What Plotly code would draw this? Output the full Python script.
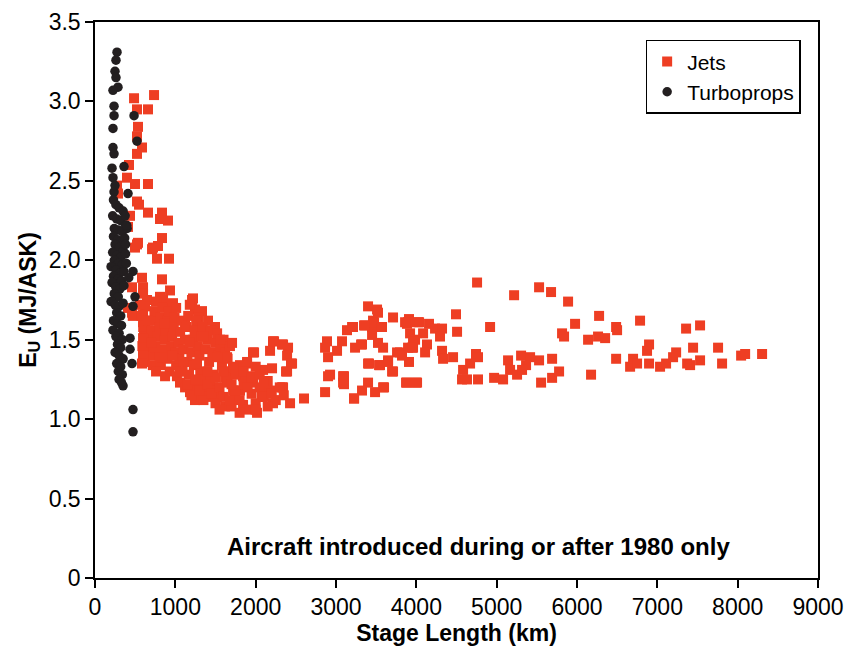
import plotly.graph_objects as go

# ---- data (stage length km, energy intensity MJ/ASK) ----
jets = [
    # sparse upper jets
    (486, 3.02), (735, 3.04), (523, 2.95), (660, 2.95), (535, 2.84), (523, 2.78),
    (585, 2.71), (523, 2.67), (423, 2.60), (398, 2.52), (498, 2.48), (660, 2.48),
    (523, 2.37), (548, 2.35), (660, 2.30), (834, 2.30), (809, 2.26), (909, 2.25),
    (436, 2.28), (411, 2.21), (834, 2.14), (535, 2.11), (498, 2.08), (710, 2.07),
    (784, 2.09), (772, 2.01), (921, 2.01), (585, 1.89), (834, 1.88), (274, 2.47),
    (286, 2.42), (523, 2.10), (722, 2.08), (598, 1.83), (934, 1.81), (461, 1.83),
    (598, 1.79), (1220, 1.76), (809, 1.77), (647, 1.75), (847, 1.75), (1208, 1.75),
    (909, 1.71), (1245, 1.69), (1332, 1.68), (461, 1.67), (598, 1.66), (747, 1.67),
    (959, 1.66), (1283, 1.64), (1407, 1.62), (623, 1.61), (1121, 1.61), (1494, 1.58),
    (623, 1.71), (847, 1.72), (971, 1.73), (1270, 1.59), (598, 1.61), (411, 1.70),
    (470, 1.65),
    # dense cluster, upper-left part
    (560, 1.72), (580, 1.65), (600, 1.58), (610, 1.52), (590, 1.46), (600, 1.40),
    (620, 1.36), (650, 1.44), (680, 1.50), (700, 1.56), (720, 1.62), (740, 1.68),
    (760, 1.74), (700, 1.40), (720, 1.34), (750, 1.46), (780, 1.52), (800, 1.58),
    (820, 1.64), (840, 1.70), (800, 1.40), (820, 1.34), (850, 1.44), (870, 1.50),
    (880, 1.56), (900, 1.62), (920, 1.68), (900, 1.38), (930, 1.30), (950, 1.46),
    (960, 1.52), (980, 1.58), (990, 1.64), (1000, 1.42), (1010, 1.34), (1020, 1.27),
    (1040, 1.48), (1060, 1.55), (1080, 1.62), (1050, 1.38), (1090, 1.30), (1100, 1.44),
    (1120, 1.50), (1140, 1.58), (1160, 1.65), (1180, 1.72), (1150, 1.36), (1170, 1.28),
    (1200, 1.42), (1220, 1.50), (1240, 1.56), (1260, 1.62), (1230, 1.34), (1250, 1.22),
    (1280, 1.46), (1300, 1.40), (1320, 1.52), (1340, 1.58), (1310, 1.30), (1350, 1.20),
    (1380, 1.44), (1400, 1.50), (1420, 1.36), (1440, 1.56), (1460, 1.42), (1480, 1.28),
    (1500, 1.48), (1520, 1.54), (1540, 1.40), (1560, 1.46), (1580, 1.34), (1600, 1.50),
    (1620, 1.42), (1650, 1.38), (1680, 1.46), (1700, 1.30), (598, 1.51), (598, 1.45),
    (598, 1.40), (585, 1.35), (747, 1.45), (834, 1.39), (872, 1.27), (1058, 1.23),
    (1183, 1.17), (1307, 1.13), (1058, 1.30), (1270, 1.35), (1519, 1.39), (1557, 1.50),
    (1706, 1.48), (1644, 1.39), (1719, 1.33), (1345, 1.25), (1470, 1.20), (1644, 1.23),
    (1121, 1.20), (1245, 1.12), (660, 1.62), (870, 1.60), (1010, 1.70), (760, 1.30),
    (1100, 1.36), (960, 1.40), (1180, 1.48), (1350, 1.52), (700, 1.48),
    # dense cluster, lower-right part
    (1843, 1.33), (1967, 1.42), (1893, 1.35), (2092, 1.31), (2204, 1.32), (1967, 1.23),
    (1805, 1.18), (1619, 1.08), (1843, 1.09), (2017, 1.04), (2216, 1.10), (2428, 1.10),
    (2341, 1.20), (2179, 1.18), (1519, 1.14), (1394, 1.14), (1307, 1.14), (1743, 1.14),
    (2079, 1.14), (1183, 1.18), (2216, 1.49), (2341, 1.47), (2403, 1.45), (2179, 1.43),
    (2391, 1.40), (2453, 1.35), (2391, 1.30), (2602, 1.13), (2229, 1.49), (2328, 1.47),
    (2440, 1.35), (2378, 1.30), (1980, 1.42), (1893, 1.36), (1805, 1.34), (1719, 1.32),
    (1967, 1.27), (1843, 1.27), (1619, 1.26), (1432, 1.25), (2328, 1.20), (2141, 1.18),
    (1719, 1.18), (1470, 1.18), (1150, 1.22), (1200, 1.15), (1250, 1.25), (1300, 1.18),
    (1350, 1.12), (1400, 1.22), (1450, 1.16), (1500, 1.10), (1550, 1.20), (1600, 1.14),
    (1650, 1.24), (1700, 1.08), (1750, 1.18), (1800, 1.12), (1850, 1.22), (1900, 1.06),
    (1950, 1.16), (2000, 1.10), (2050, 1.20), (2100, 1.14), (2150, 1.24), (2200, 1.16),
    (2250, 1.12), (2300, 1.20), (2350, 1.15), (1750, 1.28), (1850, 1.30), (1950, 1.26),
    (2000, 1.33), (2050, 1.28), (1600, 1.30), (1500, 1.26), (1400, 1.30), (1700, 1.22),
    (1900, 1.20), (2100, 1.24), (1800, 1.04), (2000, 1.06), (2150, 1.08), (1680, 1.12),
    (1550, 1.06),
    # long-haul jets
    (2888, 1.49), (2864, 1.45), (2901, 1.39), (2901, 1.27), (3088, 1.27), (3088, 1.23),
    (2864, 1.17), (3225, 1.13), (3075, 1.49), (3137, 1.56), (3200, 1.58), (3237, 1.45),
    (3324, 1.47), (3362, 1.59), (3399, 1.71), (3511, 1.69), (3523, 1.67), (3461, 1.62),
    (3449, 1.58), (3573, 1.58), (3449, 1.53), (3523, 1.48), (3586, 1.45), (3399, 1.35),
    (3548, 1.34), (3648, 1.37), (3698, 1.30), (3399, 1.23), (3486, 1.17), (3586, 1.20),
    (3710, 1.64), (3760, 1.42), (3897, 1.61), (4021, 1.61), (3922, 1.54), (4084, 1.54),
    (3797, 1.42), (3897, 1.45), (3959, 1.45), (3984, 1.50), (3909, 1.36), (3884, 1.23),
    (4009, 1.23), (3212, 1.58), (3349, 1.59), (3474, 1.61), (3561, 1.58), (3312, 1.47),
    (3013, 1.43), (3884, 1.60), (3959, 1.49), (3411, 1.35), (3536, 1.34), (2926, 1.28),
    (3100, 1.27), (3100, 1.22), (3872, 1.23), (3324, 1.18), (3225, 1.13),
    (4756, 1.86), (5217, 1.78), (5528, 1.83), (5677, 1.80), (5889, 1.74), (6275, 1.65),
    (6785, 1.62), (7358, 1.57), (7532, 1.59), (3909, 1.63), (3860, 1.61), (4034, 1.61),
    (4158, 1.60), (4233, 1.57), (4320, 1.57), (4494, 1.66), (4507, 1.55), (4918, 1.58),
    (4295, 1.52), (4133, 1.47), (3947, 1.45), (3822, 1.40), (4109, 1.42), (4320, 1.43),
    (4333, 1.38), (4457, 1.39), (4743, 1.41), (4768, 1.39), (3648, 1.36), (4582, 1.31),
    (4669, 1.35), (5142, 1.37), (5304, 1.40), (5416, 1.39), (5528, 1.37), (5690, 1.38),
    (5366, 1.34), (5167, 1.31), (5254, 1.28), (5316, 1.31), (3710, 1.30), (3598, 1.20),
    (3996, 1.23), (4569, 1.25), (4631, 1.25), (4768, 1.25), (4968, 1.26), (5080, 1.25),
    (5553, 1.23), (5690, 1.26), (5777, 1.30), (5814, 1.54), (5839, 1.52), (5976, 1.60),
    (6138, 1.50), (6262, 1.52), (6350, 1.51), (6487, 1.58), (6499, 1.56), (6175, 1.28),
    (6487, 1.38), (6661, 1.33), (6698, 1.38), (6748, 1.35), (6872, 1.43), (6897, 1.47),
    (6897, 1.35), (7034, 1.33), (7109, 1.35), (7196, 1.39), (7234, 1.42), (7371, 1.35),
    (7408, 1.34), (7445, 1.45), (7532, 1.37), (7756, 1.45), (7806, 1.35), (8043, 1.40),
    (8093, 1.41), (8304, 1.41),
]

turboprops = [
    (274, 3.31), (261, 3.26), (249, 3.19), (261, 3.15), (286, 3.09), (224, 3.07),
    (237, 2.97), (237, 2.91), (486, 2.91), (224, 2.83), (523, 2.75), (224, 2.71),
    (237, 2.67), (361, 2.59), (212, 2.58), (224, 2.52), (411, 2.42), (237, 2.43),
    (249, 2.47), (230, 2.38), (260, 2.35), (300, 2.33), (350, 2.31), (220, 2.28),
    (270, 2.26), (320, 2.25), (380, 2.22), (240, 2.20), (290, 2.19), (340, 2.18),
    (400, 2.20), (230, 2.15), (280, 2.13), (330, 2.12), (370, 2.14), (250, 2.10),
    (300, 2.08), (350, 2.06), (220, 2.05), (270, 2.03), (320, 2.02), (380, 2.04),
    (240, 2.00), (290, 1.98), (340, 1.97), (200, 1.96), (260, 1.94), (310, 1.92),
    (360, 1.93), (230, 1.90), (280, 1.88), (330, 1.87), (212, 1.86), (473, 1.93),
    (420, 1.89), (260, 1.83), (310, 1.82), (360, 1.84), (240, 1.79), (290, 1.77),
    (498, 1.77), (200, 1.74), (250, 1.72), (300, 1.71), (473, 1.71), (350, 1.73),
    (270, 1.67), (320, 1.65), (230, 1.62), (280, 1.60), (330, 1.59), (224, 1.56),
    (300, 1.54), (260, 1.52), (436, 1.51), (340, 1.50), (280, 1.47), (320, 1.45),
    (436, 1.44), (250, 1.42), (300, 1.40), (350, 1.38), (270, 1.35), (461, 1.35),
    (320, 1.33), (290, 1.30), (340, 1.28), (300, 1.25), (349, 1.21), (330, 1.23),
    (473, 1.06), (473, 0.92), (395, 2.22), (375, 2.28), (380, 2.10), (390, 1.98),
]

x_ticks = [0, 1000, 2000, 3000, 4000, 5000, 6000, 7000, 8000, 9000]
y_ticks = [0, 0.5, 1.0, 1.5, 2.0, 2.5, 3.0, 3.5]
y_tick_text = ["0", "0.5", "1.0", "1.5", "2.0", "2.5", "3.0", "3.5"]

jet_x = [p[0] for p in jets]
jet_y = [p[1] for p in jets]
tp_x = [p[0] for p in turboprops]
tp_y = [p[1] for p in turboprops]

RED = "#EE3E23"
BLACK = "#231F20"
FONT = "Liberation Sans, Arial, Helvetica, sans-serif"

fig = go.Figure()
fig.add_trace(go.Scatter(
    x=jet_x, y=jet_y, mode="markers", name="Jets",
    marker=dict(symbol="square", size=10, color=RED, line=dict(width=0)),
))
fig.add_trace(go.Scatter(
    x=tp_x, y=tp_y, mode="markers", name="Turboprops",
    marker=dict(symbol="circle", size=9.5, color=BLACK, line=dict(width=0)),
))

fig.add_annotation(
    x=4770, y=0.20, xref="x", yref="y", showarrow=False,
    text="<b>Aircraft introduced during or after 1980 only</b>",
    font=dict(family=FONT, size=24, color="black"),
)

fig.update_layout(
    width=847, height=649,
    margin=dict(l=95, r=29, t=22, b=71, autoexpand=False),
    paper_bgcolor="white", plot_bgcolor="white",
    font=dict(family=FONT, size=23, color="black"),
    showlegend=True,
    legend=dict(
        x=0.976, y=0.968, xanchor="right", yanchor="top",
        bgcolor="white", bordercolor="black", borderwidth=1.5,
        font=dict(family=FONT, size=21, color="black"),
        itemsizing="trace", tracegroupgap=0, itemwidth=30,
    ),
    xaxis=dict(
        range=[0, 9000], tickvals=x_ticks, ticktext=[str(v) for v in x_ticks],
        showgrid=False, zeroline=False, showline=True, linecolor="black", linewidth=1.5,
        mirror=True, ticks="outside", ticklen=8, tickwidth=1.5, tickcolor="black",
        tickfont=dict(family=FONT, size=23), automargin=False,
        title=dict(text="<b>Stage Length (km)</b>", font=dict(family=FONT, size=23), standoff=4),
    ),
    yaxis=dict(
        range=[0, 3.5], tickvals=y_ticks, ticktext=y_tick_text,
        showgrid=False, zeroline=False, showline=True, linecolor="black", linewidth=1.5,
        mirror=True, ticks="outside", ticklen=8, tickwidth=1.5, tickcolor="black",
        tickfont=dict(family=FONT, size=23), automargin=False,
        title=dict(text="<b>E<sub>U</sub> (MJ/ASK)</b>", font=dict(family=FONT, size=23), standoff=6),
    ),
)

fig.write_html("out.html")
